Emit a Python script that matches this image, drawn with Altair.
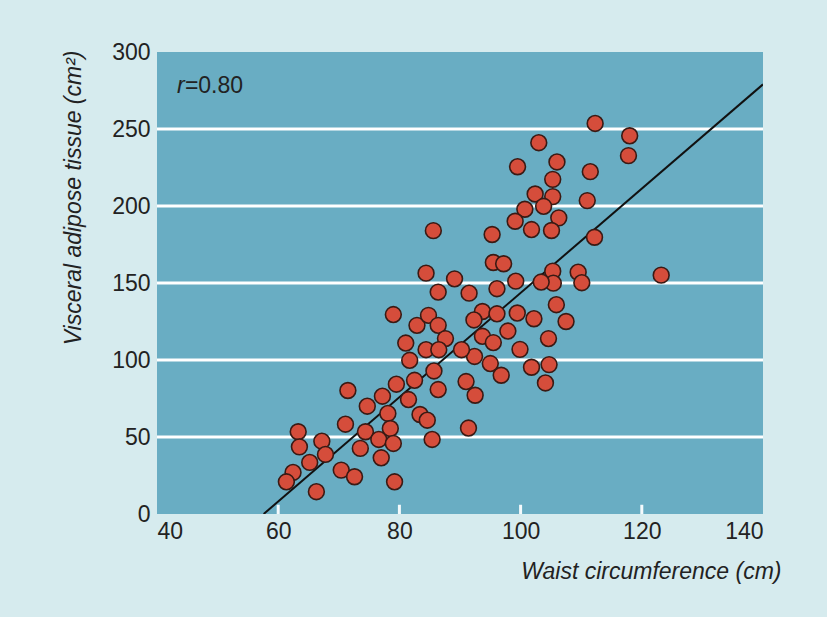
import altair as alt
import pandas as pd

# Data
waist = [112.3, 118.0, 117.8, 103.0, 99.5, 106.0, 111.5, 105.3, 102.4, 105.3,
         103.8, 111.0, 100.7, 106.3, 99.1, 101.8, 105.1, 112.2, 95.3, 85.6,
         95.5, 97.2, 105.3, 105.4, 103.4, 109.5, 110.1, 123.2, 99.2, 96.1,
         91.5, 84.4, 89.1, 86.4, 105.9, 93.7, 96.1, 99.45, 102.2, 107.5,
         92.3, 93.7, 95.5, 97.9, 104.6, 99.9, 92.4, 95.0, 96.8, 101.8,
         104.7, 104.1, 92.5, 91.4, 91.0, 79.0, 82.9, 84.8, 86.4, 87.6,
         81.05, 84.4, 86.5, 90.25, 81.7, 85.7, 82.5, 79.5, 86.4, 71.5,
         77.2, 81.5, 74.7, 78.1, 83.4, 84.6, 71.1, 74.4, 78.5, 76.6,
         79.0, 73.55, 77.0, 85.4, 63.3, 63.5, 67.2, 67.8, 65.2, 62.45,
         61.35, 66.3, 70.4, 72.6, 79.2]
vat = [253.6, 245.6, 232.7, 241.1, 225.5, 228.6, 222.3, 217.3, 207.8, 206.1,
       199.8, 203.5, 197.9, 192.3, 190.1, 184.7, 184.1, 179.7, 181.5, 184.0,
       163.3, 162.5, 157.7, 149.9, 150.6, 157.0, 150.2, 155.1, 151.2, 146.3,
       143.4, 156.4, 152.7, 144.1, 135.9, 131.5, 130.0, 130.5, 126.8, 125.0,
       126.0, 115.4, 111.3, 118.8, 113.9, 106.9, 102.3, 97.7, 90.1, 95.3,
       97.0, 85.1, 77.1, 55.8, 86.0, 129.5, 122.5, 129.0, 122.5, 113.9,
       111.0, 106.7, 106.7, 106.7, 99.8, 92.9, 86.8, 84.3, 80.8, 80.2,
       76.5, 74.3, 70.0, 65.3, 64.6, 60.9, 58.3, 53.4, 55.5, 48.4,
       45.8, 42.6, 36.5, 48.4, 53.4, 43.6, 47.3, 38.7, 33.5, 27.0,
       20.9, 14.5, 28.5, 24.2, 20.9]

fit_x = [57.6, 140.0]
fit_y = [0.0, 279.0]

grid_values = [50, 100, 150, 200, 250]
x_ticks = [40, 60, 80, 100, 120, 140]
inner_ticks = [60, 80, 100, 120]
y_ticks = [0, 50, 100, 150, 200, 250, 300]

annot_r = {"x": 43.3, "y": 278, "t": "r"}
annot_v = {"x": 44.6, "y": 278, "t": "=0.80"}

FONT = "Liberation Sans, Arial, Helvetica, sans-serif"
FS = 23

pts = pd.DataFrame({"waist": waist, "vat": vat})
fit = pd.DataFrame({"waist": fit_x, "vat": fit_y})
grid = pd.DataFrame({"v": grid_values})
ticks = pd.DataFrame({"v": inner_ticks, "y0": [0] * len(inner_ticks), "y1": [6] * len(inner_ticks)})
ann1 = pd.DataFrame([annot_r])
ann2 = pd.DataFrame([annot_v])

xscale = alt.Scale(domain=[40, 140], nice=False, zero=False)
yscale = alt.Scale(domain=[0, 300], nice=False)

xaxis = alt.Axis(values=x_ticks, grid=False, domain=False, ticks=False,
                 labelFontSize=FS, labelFont=FONT, labelColor="#222222", labelPadding=6,
                 title="Waist circumference (cm)", titleFont=FONT, titleFontSize=FS,
                 titleFontStyle="italic", titleFontWeight="normal", titleColor="#222222",
                 titleAlign="right", titleBaseline="middle", titleX=624, titleY=57,
                 titleAnchor="end")
yaxis = alt.Axis(values=y_ticks, grid=False, domain=False, ticks=False,
                 labelFontSize=FS, labelFont=FONT, labelColor="#222222", labelPadding=7,
                 title="Visceral adipose tissue (cm²)", titleFont=FONT, titleFontSize=FS,
                 titleFontStyle="italic", titleFontWeight="normal", titleColor="#222222",
                 titleAngle=270, titleAlign="right", titleBaseline="middle",
                 titleX=-84, titleY=-2)

gridlines = alt.Chart(grid).mark_rule(color="white", strokeWidth=3).encode(
    y=alt.Y("v:Q", scale=yscale, axis=yaxis)
)

tickmarks = alt.Chart(ticks).mark_rule(color="#f4fafc", strokeWidth=3).encode(
    x=alt.X("v:Q", scale=xscale, axis=xaxis),
    y=alt.Y("y0:Q", scale=yscale),
    y2="y1:Q",
)

line = alt.Chart(fit).mark_line(color="#111111", strokeWidth=2, clip=True).encode(
    x=alt.X("waist:Q", scale=xscale),
    y=alt.Y("vat:Q", scale=yscale),
)

points = alt.Chart(pts).mark_circle(size=250, color="#d54d3b", opacity=1,
                                    stroke="#3a1a14", strokeWidth=1.6).encode(
    x=alt.X("waist:Q", scale=xscale),
    y=alt.Y("vat:Q", scale=yscale),
)

t1 = alt.Chart(ann1).mark_text(font=FONT, fontSize=FS, fontStyle="italic", align="left",
                               baseline="middle", color="#222222").encode(
    x=alt.X("x:Q", scale=xscale), y=alt.Y("y:Q", scale=yscale), text="t:N")
t2 = alt.Chart(ann2).mark_text(font=FONT, fontSize=FS, align="left",
                               baseline="middle", color="#222222").encode(
    x=alt.X("x:Q", scale=xscale), y=alt.Y("y:Q", scale=yscale), text="t:N")

chart = alt.layer(gridlines, tickmarks, line, points, t1, t2).properties(
    width=606, height=462,
    padding={"left": 157, "top": 52, "right": 64, "bottom": 103},
    autosize=alt.AutoSizeParams(type="none"),
).configure(background="#d6ebee").configure_view(fill="#69adc3", stroke=None)

chart.save("out.html", embed_options={"renderer": "svg", "actions": False})
